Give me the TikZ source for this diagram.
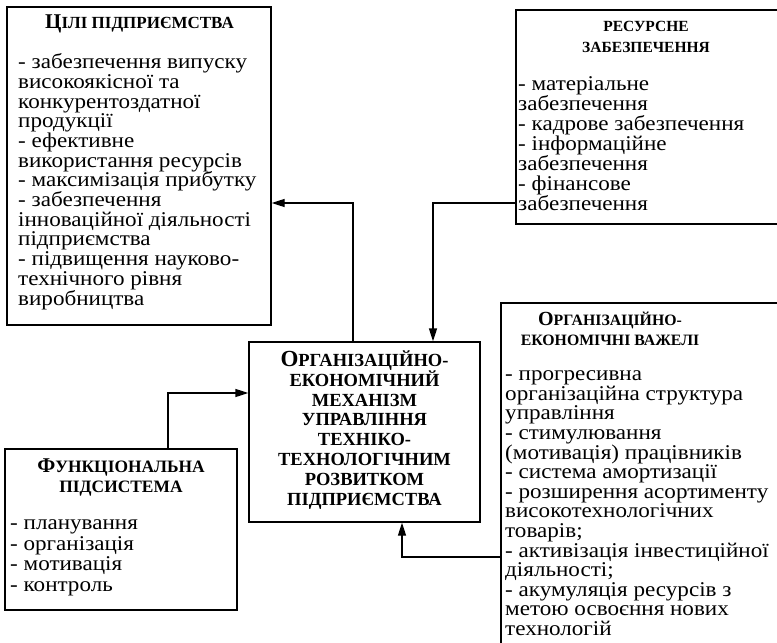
\documentclass[tikz,border=0pt]{standalone}
\usepackage{fontspec}
\setmainfont{Liberation Serif}
% body text: slightly widened serif
\newfontfamily\bodyfont[FakeStretch=1.1]{Liberation Serif}
\usetikzlibrary{arrows.meta}
% bold titles in small capitals: a full-size initial, reduced capitals after it
\newcommand\ini[2]{{\fontsize{#1}{#1}\selectfont #2}}
\begin{document}
% lines are set at exact spacing
\lineskiplimit=-100pt
\lineskip=0pt
\begin{tikzpicture}[x=1pt,y=-1pt,
  box/.style={draw, line width=1.3pt, inner sep=0pt},
  title/.style={align=center, anchor=base, inner sep=0pt},
  body/.style={align=left, anchor=base west, inner sep=0pt},
  arr/.style={line width=1.3pt, -{Triangle[length=13pt,width=8pt]}}]
\useasboundingbox (0,0) rectangle (777,643);
\clip (0,0) rectangle (777,643);

% boxes
\node[box, minimum width=264, minimum height=318] (goals) at (139,166) {};
\node[box, minimum width=274, minimum height=214] (res) at (653,117) {};
\node[box, minimum width=231, minimum height=180] (mech) at (364.5,432) {};
\node[box, minimum width=289, minimum height=357] (lev) at (645.5,481.5) {};
\node[box, minimum width=232, minimum height=161] (func) at (121,529.5) {};

% goals (text nodes are placed by the baseline of their last line)
\node[title, font=\bfseries\fontsize{17}{20}\selectfont] (goalsT) at (139.5,28.5) {\ini{21}{Ц}ІЛІ ПІДПРИЄМСТВА};
\node[body, font=\bodyfont\fontsize{21}{19.7}\selectfont] (goalsB) at (18,305) {- забезпечення випуску\\високоякісної та\\конкурентоздатної\\продукції\\- ефективне\\використання ресурсів\\- максимізація прибутку\\- забезпечення\\інноваційної діяльності\\підприємства\\- підвищення науково-\\технічного рівня\\виробництва};

% resources
\node[title, font=\bfseries\fontsize{15.5}{21}\selectfont] (resT) at (646,52) {РЕСУРСНЕ\\ЗАБЕЗПЕЧЕННЯ};
\node[body, font=\bodyfont\fontsize{21}{20}\selectfont] (resB) at (518,210) {- матеріальне\\забезпечення\\- кадрове забезпечення\\- інформаційне\\забезпечення\\- фінансове\\забезпечення};

% mechanism
\node[title, font=\bfseries\fontsize{18.5}{19.9}\selectfont] (mechT) at (364.5,505.5) {\ini{23}{О}РГАНІЗАЦІЙНО-\\ЕКОНОМІЧНИЙ\\МЕХАНІЗМ\\УПРАВЛІННЯ\\ТЕХНІКО-\\ТЕХНОЛОГІЧНИМ\\РОЗВИТКОМ\\ПІДПРИЄМСТВА};

% levers
\node[title, font=\bfseries\fontsize{15.8}{20}\selectfont] (levT) at (610,345.5) {\ini{20}{О}РГАНІЗАЦІЙНО-\\ЕКОНОМІЧНІ ВАЖЕЛІ};
\node[body, font=\bodyfont\fontsize{21}{19.6}\selectfont] (levB) at (505,635.5) {- прогресивна\\організаційна структура\\управління\\- стимулювання\\(мотивація) працівників\\- система амортизації\\- розширення асортименту\\високотехнологічних\\товарів;\\- активізація інвестиційної\\діяльності;\\- акумуляція ресурсів з\\метою освоєння нових\\технологій};

% functional subsystem
\node[title, font=\bfseries\fontsize{17.4}{20}\selectfont] (funcT) at (121,492.5) {\ini{21}{Ф}УНКЦІОНАЛЬНА\\ПІДСИСТЕМА};
\node[body, font=\bodyfont\fontsize{21}{20.5}\selectfont] (funcB) at (10,591) {- планування\\- організація\\- мотивація\\- контроль};

% bend points of the connectors
\coordinate (c1) at (353,203);
\coordinate (c2) at (433,203);
\coordinate (c3) at (168,393);
\coordinate (c4) at (402,557);

\draw[arr] (mech.north -| c1) |- (goals.east |- c1);
\draw[arr] (res.west |- c2) -| (mech.north -| c2);
\draw[arr] (func.north -| c3) |- (mech.west |- c3);
\draw[arr] (lev.west |- c4) -| (mech.south -| c4);
\end{tikzpicture}
\end{document}
